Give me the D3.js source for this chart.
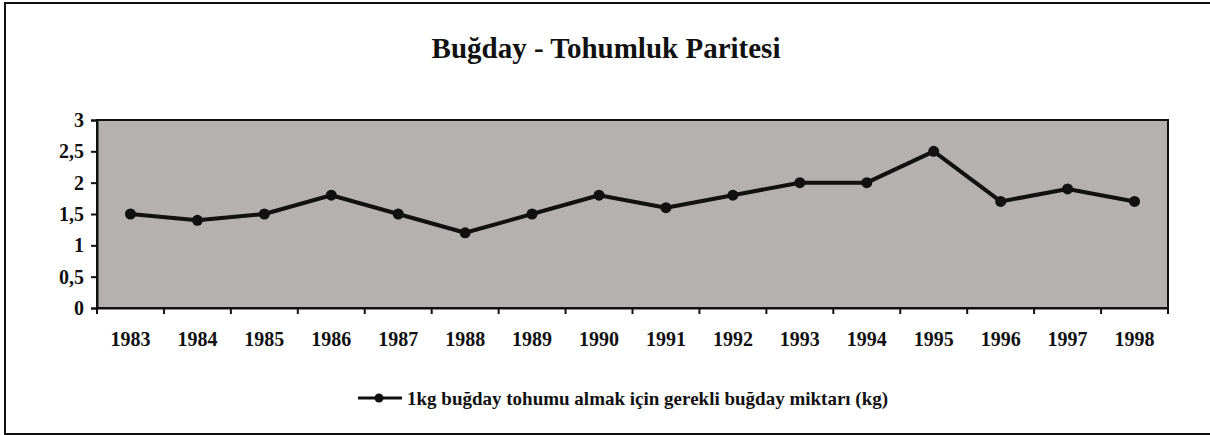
<!DOCTYPE html>
<html>
<head>
<meta charset="utf-8">
<script src="https://cdn.jsdelivr.net/npm/d3@7"></script>
<style>
  body { margin: 0; background: #fff; }
  text { font-family: "Liberation Serif", "Times New Roman", serif; font-weight: bold; fill: #111; }
</style>
</head>
<body>
<div id="chart"></div>
<script>
// data
const years = ["1983","1984","1985","1986","1987","1988","1989","1990","1991","1992","1993","1994","1995","1996","1997","1998"]
const parity = [1.5, 1.4, 1.5, 1.8, 1.5, 1.2, 1.5, 1.8, 1.6, 1.8, 2.0, 2.0, 2.5, 1.7, 1.9, 1.7]
const yTicks = [0, 0.5, 1, 1.5, 2, 2.5, 3]
const title = "Buğday - Tohumluk Paritesi"
const seriesName = "1kg buğday tohumu almak için gerekli buğday miktarı (kg)"

const W = 1210, H = 435
const margin = {top: 120, right: 42, bottom: 127, left: 97}
const width = W - margin.left - margin.right,
      height = H - margin.top - margin.bottom

const svg = d3.select("#chart").append("svg")
  .attr("width", W)
  .attr("height", H)

// outer chart frame (right edge runs off the scan)
svg.append("path")
  .attr("d", "M1215,3 H5 V434 H1215")
  .attr("fill", "none")
  .attr("stroke", "#111")
  .attr("stroke-width", 2)

svg.append("text")
  .attr("x", 606)
  .attr("y", 58)
  .attr("text-anchor", "middle")
  .style("font-size", "29px")
  .text(title)

const g = svg.append("g")
  .attr("transform", "translate(" + margin.left + "," + margin.top + ")")

const x = d3.scaleBand().domain(years).range([0, width])
const y = d3.scaleLinear().domain([0, 3]).range([height, 0])

// grey plot area
g.append("rect")
  .attr("width", width)
  .attr("height", height)
  .attr("fill", "#b5b1b1")
  .attr("stroke", "#111")
  .attr("stroke-width", 2)

// y axis
const yAxis = g.append("g")
  .call(d3.axisLeft(y).tickValues(yTicks).tickSize(6).tickFormat(d => String(d).replace(".", ",")))
yAxis.select(".domain").attr("stroke-width", 2).attr("stroke", "#111")
yAxis.selectAll(".tick line").attr("stroke-width", 2).attr("stroke", "#111")
yAxis.selectAll(".tick text").attr("x", -13).style("font-size", "20px").style("font-family", null)

// x axis, ticks sit between categories
const xAxis = g.append("g")
  .attr("transform", "translate(0," + height + ")")
  .call(d3.axisBottom(x).tickSize(0).tickPadding(24))
xAxis.select(".domain").attr("stroke-width", 2).attr("stroke", "#111")
xAxis.selectAll(".tick text").style("font-size", "20px").style("font-family", null)

g.append("g")
  .selectAll("line")
  .data(years)
  .enter()
  .append("line")
    .attr("x1", d => x(d))
    .attr("x2", d => x(d))
    .attr("y1", height)
    .attr("y2", height + 6)
    .attr("stroke", "#111")
    .attr("stroke-width", 2)
g.append("line")
  .attr("x1", width).attr("x2", width)
  .attr("y1", height).attr("y2", height + 6)
  .attr("stroke", "#111").attr("stroke-width", 2)

// the series
const line = d3.line()
  .x((d, i) => x(years[i]) + x.bandwidth() / 2)
  .y(d => y(d))

g.append("path")
  .datum(parity)
  .attr("d", line)
  .attr("fill", "none")
  .attr("stroke", "#111")
  .attr("stroke-width", 4)
  .attr("stroke-linejoin", "round")

g.append("g")
  .selectAll("circle")
  .data(parity)
  .enter()
  .append("circle")
    .attr("cx", (d, i) => x(years[i]) + x.bandwidth() / 2)
    .attr("cy", d => y(d))
    .attr("r", 5.5)
    .attr("fill", "#111")

// legend
const legend = svg.append("g").attr("transform", "translate(0,398)")
legend.append("line")
  .attr("x1", 358).attr("x2", 402)
  .attr("stroke", "#111").attr("stroke-width", 3)
legend.append("circle")
  .attr("cx", 379).attr("r", 4.5).attr("fill", "#111")
legend.append("text")
  .attr("x", 407)
  .attr("dy", "0.35em")
  .style("font-size", "19px")
  .text(seriesName)
</script>
</body>
</html>
